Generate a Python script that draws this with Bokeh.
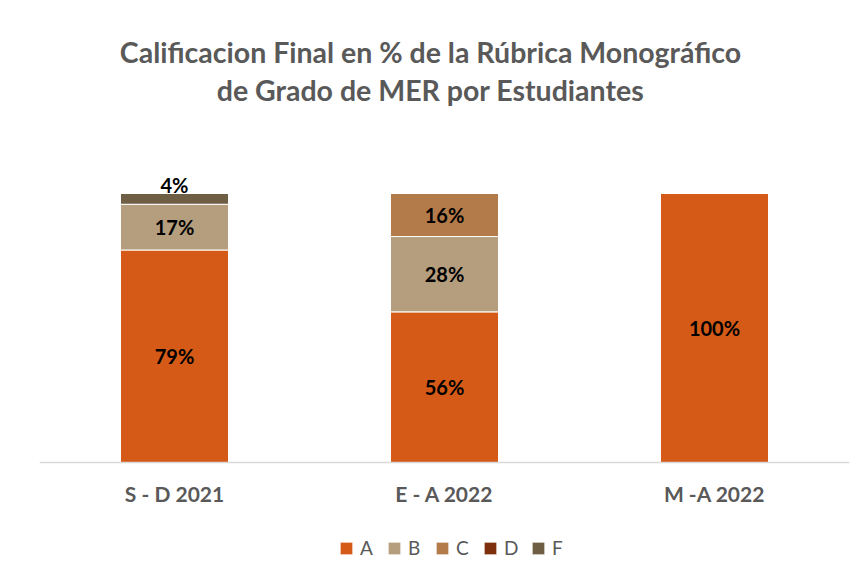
from bokeh.plotting import figure
from bokeh.models import ColumnDataSource, Legend, LegendItem, Range1d, FactorRange, Span
from bokeh.core.properties import value
from bokeh.embed import file_html
from bokeh.resources import INLINE

categories = ["S - D 2021", "E - A 2022", "M -A 2022"]
grades = ["A", "B", "C", "D", "F"]
A = [79, 56, 100]
B = [17, 28, 0]
C = [0, 16, 0]
D = [0, 0, 0]
F = [4, 0, 0]
colors = ["#D55A17", "#B49E7E", "#B47B4A", "#7E2F0E", "#6E5E43"]
title_lines = ["Calificacion Final en % de la Rúbrica Monográfico",
               "de Grado de MER por Estudiantes"]

FONT = "Lato"
W, H = 857, 571
base_px, top_px = 462, 193          # pixel rows of 0% and 100%
ppu = (base_px - top_px) / 100.0
y_end = 100 + top_px / ppu
y_start = -(H - base_px) / ppu


def py(pix):
    """pixel row -> data y"""
    return (base_px - pix) / ppu


p = figure(x_range=FactorRange(*categories, range_padding=0), y_range=Range1d(y_start, y_end),
           width=W, height=H, output_backend="svg", toolbar_location=None,
           min_border_left=39, min_border_right=8, min_border_top=0, min_border_bottom=0)
p.xgrid.visible = False
p.ygrid.visible = False
p.xaxis.visible = False
p.yaxis.visible = False
p.outline_line_color = None
p.background_fill_color = "white"
p.border_fill_color = "white"

data = {"cat": categories}
series = {"A": A, "B": B, "C": C, "D": D, "F": F}
for g in grades:
    data[g] = series[g]
src = ColumnDataSource(data)
renderers = p.vbar_stack(grades, x="cat", width=0.4, source=src, color=colors,
                         line_color="white", line_width=1)

# baseline (category axis line)
p.add_layout(Span(location=0, dimension="width", line_color="#D9D9D9", line_width=1.5))

# data labels
lx, ly, lt = [], [], []
for i, c in enumerate(categories):
    base = 0
    for g in grades:
        v = series[g][i]
        if v > 0:
            lx.append(c)
            if g == "F":
                ly.append(base + v + 3.3)
            else:
                ly.append(base + v / 2)
            lt.append(f"{v}%")
        base += v
p.text(x=lx, y=ly, text=lt, text_align="center", text_baseline="middle",
       text_font=value(FONT), text_font_style="bold", text_font_size="20px",
       text_color="black")

# category labels
p.text(x=categories, y=[py(493)] * len(categories), text=categories, text_align="center",
       text_baseline="middle", text_font=value(FONT), text_font_style="bold",
       text_font_size="21px", text_color="#595959")

# title
mid = categories[1]
p.text(x=[mid, mid], y=[py(51), py(89)], text=title_lines, text_align="center",
       text_baseline="middle", x_offset=-14, text_font=value(FONT), text_font_style="bold",
       text_font_size="28.5px", text_color="#595959")

legend = Legend(items=[LegendItem(label=g, renderers=[r]) for g, r in zip(grades, renderers)],
                orientation="horizontal", location=(299, 12), border_line_color=None,
                label_text_font=FONT, label_text_font_size="19px", label_text_color="#595959",
                glyph_width=16, glyph_height=16, spacing=6, label_standoff=6,
                margin=0, padding=0, background_fill_alpha=0)
p.add_layout(legend, "center")

open("out.html", "w").write(file_html(p, INLINE))
